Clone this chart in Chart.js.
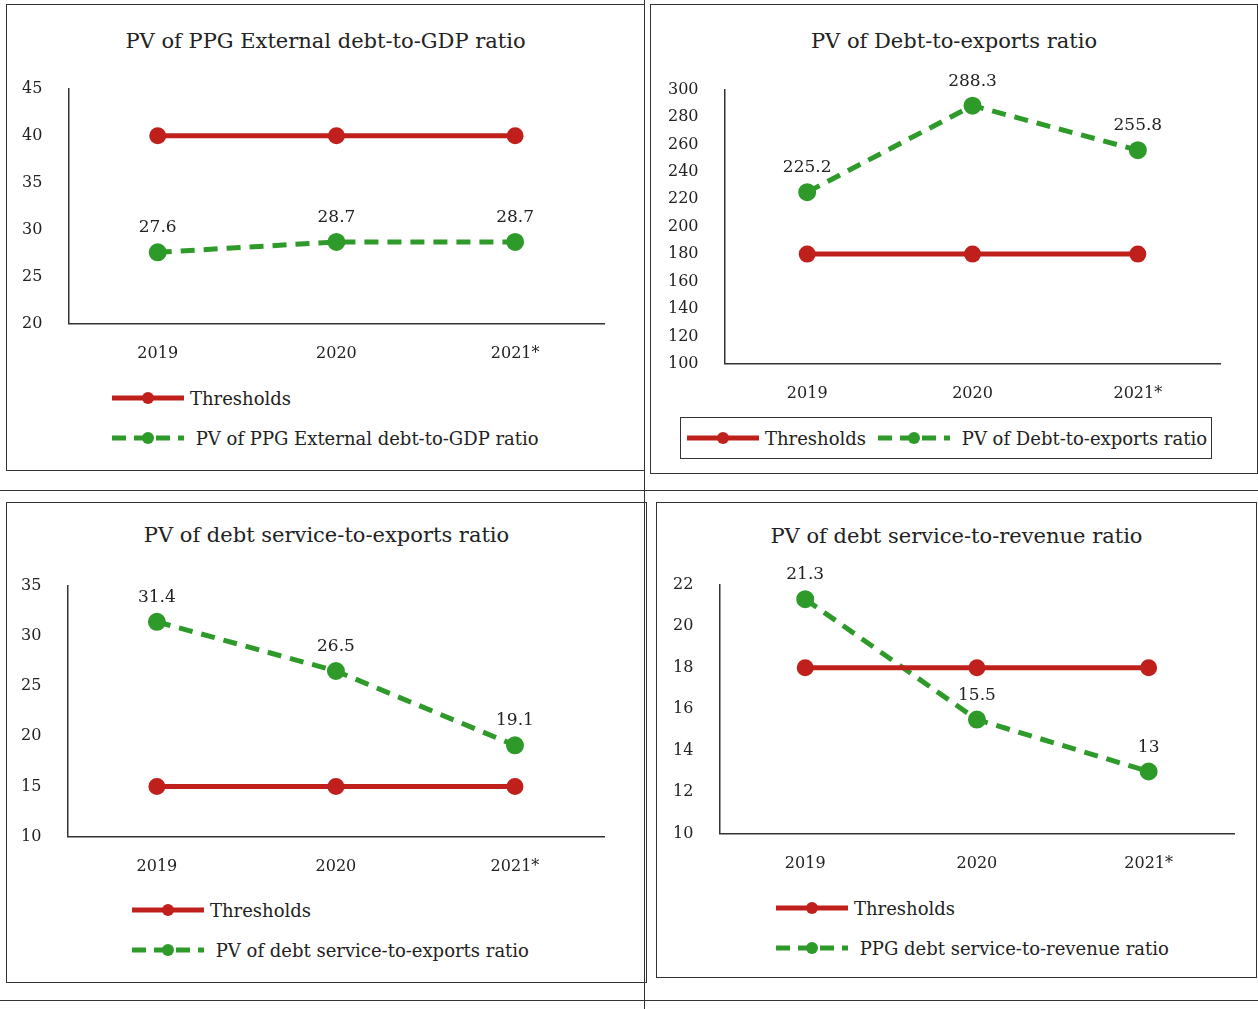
<!DOCTYPE html>
<html><head><meta charset="utf-8">
<script src="https://cdn.jsdelivr.net/npm/chart.js@4/dist/chart.umd.min.js"></script>
<style>
body{margin:0;background:#fff;font-family:"DejaVu Serif",serif;color:#222;}
.panel{position:absolute;border:1.5px solid #333;box-sizing:border-box;}
.title{position:absolute;font-size:21px;text-align:center;width:100%;}
.cv{position:absolute;}
.legend{position:absolute;font-size:18px;}
.legend div{display:flex;align-items:center;height:40px;}
.legend svg{margin-right:4px;}
.hline{position:absolute;border-top:1.5px solid #333;}
</style></head><body>
<div class="hline" style="left:0;top:490px;width:1258px"></div>
<div class="hline" style="left:0;top:1000px;width:1258px"></div>
<div class="hline" style="left:644px;top:0;height:1009px;border-top:none;border-left:1.5px solid #333"></div>

<div class="panel" style="left:6px;top:4px;width:639px;height:467px"><div class="title" style="top:24px">PV of PPG External debt-to-GDP ratio</div></div>
<div class="panel" style="left:650px;top:4px;width:608px;height:470px"><div class="title" style="top:24px">PV of Debt-to-exports ratio</div></div>
<div class="panel" style="left:6px;top:502px;width:641px;height:481px"><div class="title" style="top:20px">PV of debt service-to-exports ratio</div></div>
<div class="panel" style="left:656px;top:502px;width:601px;height:476px"><div class="title" style="top:21px">PV of debt service-to-revenue ratio</div></div>

<div class="cv" style="left:4px;top:61px;width:612px;height:314px"><canvas id="c1"></canvas></div>
<div class="cv" style="left:650px;top:62px;width:582px;height:353px"><canvas id="c2"></canvas></div>
<div class="cv" style="left:3px;top:558px;width:613px;height:330px"><canvas id="c3"></canvas></div>
<div class="cv" style="left:655px;top:557px;width:591px;height:328px"><canvas id="c4"></canvas></div>

<div class="legend" style="left:110px;top:378px" id="l1"></div>
<div class="legend" style="left:680px;top:417px;border:1.5px solid #333;padding:0 4px" id="l2"></div>
<div class="legend" style="left:130px;top:890px" id="l3"></div>
<div class="legend" style="left:774px;top:888px" id="l4"></div>

<script>
const years = ['2019', '2020', '2021*'];
const thr1 = [40, 40, 40];
const gdp = [27.6, 28.7, 28.7];
const thr2 = [180, 180, 180];
const debtExp = [225.2, 288.3, 255.8];
const thr3 = [15, 15, 15];
const dsExp = [31.4, 26.5, 19.1];
const thr4 = [18, 18, 18];
const dsRev = [21.3, 15.5, 13];

const RED = '#c0201c', GREEN = '#2e9a2a';
const FONT = '"DejaVu Serif",serif';

const labelPlugin = {
  id: 'vals',
  afterDatasetsDraw(chart) {
    const ctx = chart.ctx;
    const meta = chart.getDatasetMeta(1);
    ctx.save();
    ctx.font = '17px ' + FONT;
    ctx.fillStyle = '#222';
    ctx.textAlign = 'center';
    meta.data.forEach((p, i) => {
      ctx.fillText(String(chart.data.datasets[1].data[i]), p.x, p.y - 20);
    });
    ctx.restore();
  }
};

function make(id, thr, vals, min, max, step) {
  new Chart(document.getElementById(id), {
    type: 'line',
    data: { labels: years, datasets: [
      { data: thr, borderColor: RED, backgroundColor: RED, borderWidth: 5, pointRadius: 6, pointHoverRadius: 6 },
      { data: vals, borderColor: GREEN, backgroundColor: GREEN, borderWidth: 5, borderDash: [14, 9], pointRadius: 6.5, pointHoverRadius: 6.5 }
    ]},
    options: {
      responsive: true, maintainAspectRatio: false, animation: false,
      plugins: { legend: { display: false }, tooltip: { enabled: false } },
      layout: { padding: { top: 10, right: 0 } },
      scales: {
        x: { offset: true, grid: { display: false }, border: { color: '#333', width: 1.5 },
             ticks: { color: '#222', font: { family: FONT, size: 16 }, padding: 12 } },
        y: { min: min, max: max, grid: { display: false }, border: { color: '#333', width: 1.5 },
             ticks: { stepSize: step, color: '#222', font: { family: FONT, size: 16 }, padding: 18 } }
      }
    },
    plugins: [labelPlugin]
  });
}
make('c1', thr1, gdp, 20, 45, 5);
make('c2', thr2, debtExp, 100, 300, 20);
make('c3', thr3, dsExp, 10, 35, 5);
make('c4', thr4, dsRev, 10, 22, 2);

function sw(color, dash) {
  return `<svg width="76" height="14"><line x1="2" y1="7" x2="74" y2="7" stroke="${color}" stroke-width="5" ${dash ? 'stroke-dasharray="14 8"' : ''}/><circle cx="38" cy="7" r="6" fill="${color}"/></svg>`;
}
function legend(id, name, row) {
  const el = document.getElementById(id);
  const a = `<div>${sw(RED, false)}Thresholds</div>`;
  const b = `<div>${sw(GREEN, true)}&nbsp;${name}</div>`;
  el.innerHTML = row ? `<div style="display:flex;height:40px"><div>${sw(RED,false)}Thresholds</div><div style="margin-left:10px">${sw(GREEN,true)}&nbsp;${name}</div></div>` : a + b;
}
legend('l1', 'PV of PPG External debt-to-GDP ratio');
legend('l2', 'PV of Debt-to-exports ratio', true);
legend('l3', 'PV of debt service-to-exports ratio');
legend('l4', 'PPG debt service-to-revenue ratio');
</script>
</body></html>
